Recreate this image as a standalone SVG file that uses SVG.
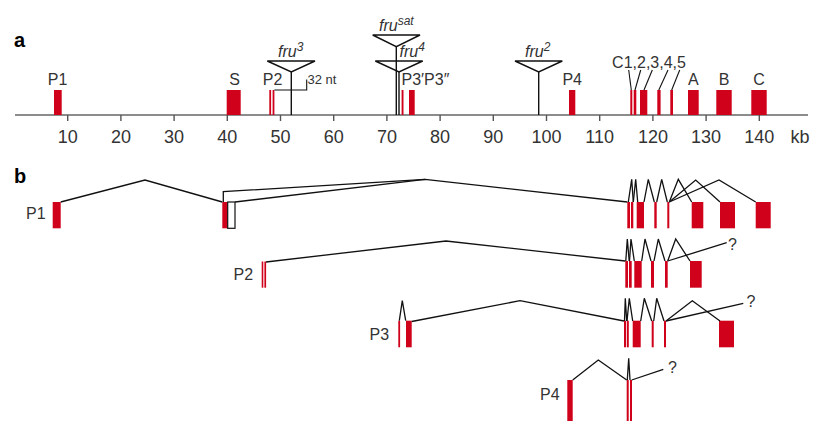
<svg xmlns="http://www.w3.org/2000/svg" width="813" height="421" viewBox="0 0 813 421">
<style>
text{font-family:"Liberation Sans",Arial,sans-serif;fill:#333}
.lbl{font-size:16px}
.tk{font-size:18px;text-anchor:middle}
.hd{font-size:20px;font-weight:bold;fill:#000}
.ex{fill:#d0021b}
.ln{fill:none;stroke:#111;stroke-width:1.3;stroke-linejoin:miter}
.ax{stroke:#666;stroke-width:1.6}
.tick{stroke:#555;stroke-width:1.4}
.ins{fill:none;stroke:#111;stroke-width:1.4}
.it{font-style:italic;font-size:16px}
.sup{font-size:12px}
.mid{text-anchor:middle}
</style>
<rect width="813" height="421" fill="#fff"/>

<!-- ===== Panel a ===== -->
<text class="hd" x="14" y="47">a</text>
<g id="axis">
  <line class="ax" x1="15" y1="115" x2="808" y2="115"/>
  <g class="tick">
    <line x1="67.7" y1="115" x2="67.7" y2="121"/>
    <line x1="120.9" y1="115" x2="120.9" y2="121"/>
    <line x1="174.1" y1="115" x2="174.1" y2="121"/>
    <line x1="227.3" y1="115" x2="227.3" y2="121"/>
    <line x1="280.5" y1="115" x2="280.5" y2="121"/>
    <line x1="333.7" y1="115" x2="333.7" y2="121"/>
    <line x1="386.9" y1="115" x2="386.9" y2="121"/>
    <line x1="440.1" y1="115" x2="440.1" y2="121"/>
    <line x1="493.3" y1="115" x2="493.3" y2="121"/>
    <line x1="546.5" y1="115" x2="546.5" y2="121"/>
    <line x1="599.7" y1="115" x2="599.7" y2="121"/>
    <line x1="652.9" y1="115" x2="652.9" y2="121"/>
    <line x1="706.1" y1="115" x2="706.1" y2="121"/>
    <line x1="759.3" y1="115" x2="759.3" y2="121"/>
  </g>
  <text class="tk" x="67.7" y="143">10</text>
  <text class="tk" x="120.9" y="143">20</text>
  <text class="tk" x="174.1" y="143">30</text>
  <text class="tk" x="227.3" y="143">40</text>
  <text class="tk" x="280.5" y="143">50</text>
  <text class="tk" x="333.7" y="143">60</text>
  <text class="tk" x="386.9" y="143">70</text>
  <text class="tk" x="440.1" y="143">80</text>
  <text class="tk" x="493.3" y="143">90</text>
  <text class="tk" x="546.5" y="143">100</text>
  <text class="tk" x="599.7" y="143">110</text>
  <text class="tk" x="652.9" y="143">120</text>
  <text class="tk" x="706.1" y="143">130</text>
  <text class="tk" x="759.3" y="143">140</text>
  <text class="tk" x="800" y="143">kb</text>
</g>

<g id="a-P1"><rect class="ex" x="54" y="90" width="7.7" height="25"/><text class="lbl mid" x="57.5" y="85">P1</text></g>
<g id="a-S"><rect class="ex" x="226.7" y="90" width="14" height="25"/><text class="lbl mid" x="234.5" y="85">S</text></g>
<g id="a-P2"><rect class="ex" x="269.3" y="90" width="1.8" height="25"/><rect class="ex" x="272.6" y="90" width="1.8" height="25"/><text class="lbl mid" x="272.5" y="85">P2</text></g>
<g id="a-32nt"><polyline class="ln" points="274.4,90 306.7,90 306.7,79.5" style="stroke-width:1.1"/><text x="307.5" y="84" style="font-size:13px">32 nt</text></g>
<g id="a-P3"><rect class="ex" x="401.6" y="90" width="1.9" height="25"/><rect class="ex" x="409" y="90" width="5.7" height="25"/><text class="lbl" x="401.5" y="85">P3′P3″</text></g>
<g id="a-P4"><rect class="ex" x="569" y="90" width="6.3" height="25"/><text class="lbl mid" x="572.2" y="85">P4</text></g>
<g id="a-C15">
  <rect class="ex" x="630.3" y="90" width="2" height="25"/>
  <rect class="ex" x="633.7" y="90" width="2.6" height="25"/>
  <rect class="ex" x="640" y="90" width="7.3" height="25"/>
  <rect class="ex" x="657.3" y="90" width="3.3" height="25"/>
  <rect class="ex" x="670.3" y="90" width="2.7" height="25"/>
  <g class="ln" style="stroke-width:1.1">
    <line x1="628.7" y1="70" x2="631.3" y2="90"/>
    <line x1="640.7" y1="70" x2="635" y2="90"/>
    <line x1="652.3" y1="70" x2="644" y2="90"/>
    <line x1="668" y1="70" x2="658.8" y2="90"/>
    <line x1="679.7" y1="70" x2="671.7" y2="90"/>
  </g>
  <text class="lbl mid" x="649" y="68.3">C1,2,3,4,5</text>
</g>
<g id="a-A"><rect class="ex" x="688" y="90" width="10.7" height="25"/><text class="lbl mid" x="693.3" y="85">A</text></g>
<g id="a-B"><rect class="ex" x="716.3" y="90" width="15.4" height="25"/><text class="lbl mid" x="724" y="85">B</text></g>
<g id="a-C"><rect class="ex" x="751.3" y="90" width="15.4" height="25"/><text class="lbl mid" x="759" y="85">C</text></g>

<g id="fru3">
  <polygon class="ins" points="267.3,61 315,61 291.3,72"/>
  <line class="ins" x1="291.3" y1="72" x2="291.3" y2="115"/>
  <text class="it" x="278" y="57">fru<tspan class="sup" dy="-6">3</tspan></text>
</g>
<g id="frusat">
  <polygon class="ins" points="372.7,35 420,35 396.3,46.7"/>
  <line class="ins" x1="396.3" y1="46.7" x2="396.3" y2="115"/>
  <text class="it" x="379" y="31">fru<tspan class="sup" dy="-6">sat</tspan></text>
</g>
<g id="fru4">
  <polygon class="ins" points="375.3,61 422.7,61 399,72"/>
  <line class="ins" x1="399" y1="72" x2="399" y2="115"/>
  <text class="it" x="399.5" y="57">fru<tspan class="sup" dy="-6">4</tspan></text>
</g>
<g id="fru2">
  <polygon class="ins" points="515,61 562.3,61 538.7,72"/>
  <line class="ins" x1="538.7" y1="72" x2="538.7" y2="115"/>
  <text class="it" x="525" y="57">fru<tspan class="sup" dy="-6">2</tspan></text>
</g>

<!-- ===== Panel b ===== -->
<text class="hd" x="14" y="183">b</text>

<g id="tP1">
  <text class="lbl" x="26" y="219">P1</text>
  <rect class="ex" x="52.7" y="202" width="8" height="26.3"/>
  <rect class="ex" x="222.3" y="202" width="5.4" height="26.3"/>
  <rect x="227.7" y="202" width="7.3" height="26.3" fill="#fff" stroke="#111" stroke-width="1.2"/>
  <rect class="ex" x="627.3" y="202" width="2.7" height="26.3"/>
  <rect class="ex" x="631" y="202" width="2.3" height="26.3"/>
  <rect class="ex" x="636.7" y="202" width="7.3" height="26.3"/>
  <rect class="ex" x="654.3" y="202" width="2.4" height="26.3"/>
  <rect class="ex" x="667.3" y="202" width="2" height="26.3"/>
  <rect class="ex" x="691.7" y="202" width="11.6" height="26.3"/>
  <rect class="ex" x="720" y="202" width="15" height="26.3"/>
  <rect class="ex" x="755.7" y="202" width="15" height="26.3"/>
</g>

<g id="tP2">
  <text class="lbl" x="233.5" y="280">P2</text>
  <rect class="ex" x="261.7" y="261.5" width="1.6" height="26.2"/>
  <rect class="ex" x="264.4" y="261.5" width="1.7" height="26.2"/>
  <rect class="ex" x="625.3" y="261" width="2.7" height="26.7"/>
  <rect class="ex" x="629" y="261" width="2.7" height="26.7"/>
  <rect class="ex" x="634.3" y="261" width="7.4" height="26.7"/>
  <rect class="ex" x="651" y="261" width="3" height="26.7"/>
  <rect class="ex" x="665" y="261" width="2.7" height="26.7"/>
  <rect class="ex" x="690" y="261" width="11.7" height="26.7"/>
  <text class="lbl" x="728" y="250">?</text>
</g>

<g id="tP3">
  <text class="lbl" x="369.5" y="340">P3</text>
  <rect class="ex" x="398.3" y="320.7" width="1.8" height="26.6"/>
  <rect class="ex" x="406" y="320.7" width="5.7" height="26.6"/>
  <rect class="ex" x="624" y="320.7" width="2" height="26.6"/>
  <rect class="ex" x="626.8" y="320.7" width="2" height="26.6"/>
  <rect class="ex" x="632.7" y="320.7" width="8" height="26.6"/>
  <rect class="ex" x="651.7" y="320.7" width="2" height="26.6"/>
  <rect class="ex" x="664" y="320.7" width="2" height="26.6"/>
  <rect class="ex" x="719" y="320.7" width="15" height="26.6"/>
  <text class="lbl" x="746.5" y="307">?</text>
</g>

<g id="tP4">
  <text class="lbl" x="540" y="400">P4</text>
  <rect class="ex" x="567.3" y="380" width="5.4" height="41"/>
  <rect class="ex" x="626.7" y="380" width="2" height="41"/>
  <rect class="ex" x="630" y="380" width="2" height="41"/>
  <text class="lbl" x="668" y="373">?</text>
</g>

<g id="connectors" class="ln">
  <!-- P1 transcript -->
  <polyline points="60.7,202 145,180 222.3,202"/>
  <polyline points="223.3,202 223.3,191.7 425,179.3 627.3,202"/>
  <line x1="235" y1="202" x2="425" y2="179.3"/>
  <polyline points="628.3,202 631.7,179.3 633.3,202"/>
  <polyline points="633.3,202 635.7,179.3 637.7,202"/>
  <polyline points="644,202 648.3,179.3 654.3,202"/>
  <polyline points="656.7,202 661.7,179.3 667.3,202"/>
  <polyline points="669.3,202 678.3,179.3 691.7,202"/>
  <polyline points="669.3,202 695.7,180 720,202"/>
  <polyline points="669.3,202 719,180 755.7,202"/>
  <!-- P2 transcript -->
  <polyline points="266,262 446,241 625.3,261"/>
  <polyline points="625.8,261 627.3,239 629.2,261"/>
  <polyline points="629.5,261 631,239 634.3,261"/>
  <polyline points="641.7,261 645,239 651,261"/>
  <polyline points="654,261 658.3,239 665,261"/>
  <polyline points="667.7,261 675.7,239 690,261"/>
  <line x1="667.7" y1="261" x2="726.7" y2="242.7"/>
  <!-- P3 transcript -->
  <polyline points="399.3,320.7 402.3,300.7 405.7,320.7"/>
  <polyline points="411.7,321.5 520,300.7 624,321"/>
  <polyline points="624.5,321 625.3,298.3 626.7,321"/>
  <polyline points="627,321 629.3,298.3 632.7,321"/>
  <polyline points="640.7,321 644.3,298.3 651.7,321"/>
  <polyline points="653.7,321 656.7,298.3 664,321"/>
  <polyline points="666,321 692.3,300.7 720,321"/>
  <line x1="666" y1="321" x2="743.3" y2="303.3"/>
  <!-- P4 transcript -->
  <polyline points="572.7,380 598.3,360 626.7,380"/>
  <polyline points="627.3,380 628.7,358.3 630,380"/>
  <line x1="631.7" y1="380" x2="663.3" y2="369.3"/>
</g>
</svg>
